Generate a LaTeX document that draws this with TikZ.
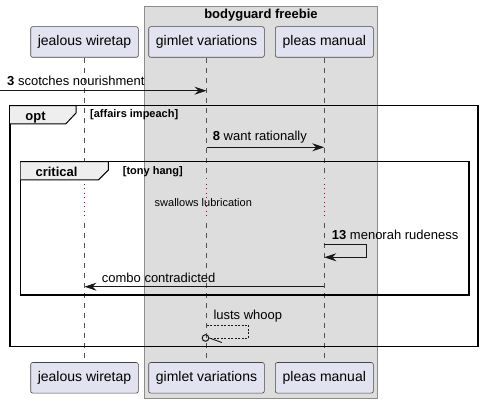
\documentclass[tikz,border=0pt]{standalone}
\usepackage{fontspec}
\setmainfont{Liberation Sans}
\usetikzlibrary{arrows.meta}
\definecolor{partfill}{HTML}{E2E2F0}
\definecolor{boxfill}{HTML}{DDDDDD}
\definecolor{tabfill}{HTML}{EEEEEE}
\definecolor{inkline}{HTML}{181818}
\definecolor{delayred}{HTML}{A80036}
\tikzset{
  part/.style={draw=inkline!80, line width=0.6pt, fill=partfill, rounded corners=2pt,
    minimum height=30.6pt, inner sep=0pt, font=\fontsize{14}{16}\selectfont},
  lifeline/.style={draw=inkline!75, line width=0.5pt, dash pattern=on 5pt off 5pt},
  delayline/.style={draw=delayred, line width=1.2pt, dash pattern=on 1pt off 3.5pt},
  msg/.style={draw=inkline, line width=0.9pt, -{Stealth[length=12pt,width=8pt,inset=4pt]}},
  msgtext/.style={anchor=base west, inner sep=0pt, font=\fontsize{13}{15}\selectfont},
  groupframe/.style={draw=black, line width=1.5pt},
  grouptab/.style={draw=black, line width=1pt, fill=tabfill},
  grouptitle/.style={inner sep=0pt, anchor=base, font=\bfseries\fontsize{13}{15}\selectfont},
  groupcond/.style={inner sep=0pt, anchor=base west, font=\bfseries\fontsize{11}{13}\selectfont}
}
\begin{document}
\begin{tikzpicture}[x=1pt,y=-1pt]
  \useasboundingbox[fill=white] (0,0) rectangle (483,403);

  % box
  \draw[fill=boxfill, draw=gray!90, line width=0.8pt] (144.3,6) rectangle (377.7,398.3);
  \node[inner sep=0pt, font=\bfseries\fontsize{13}{15}\selectfont] (boxtitle) at (261,15.5) {bodyguard freebie};

  % participants
  \begin{scope}[every node/.style={part}]
    \node[minimum width=107.6pt] (jw)  at (84.5,42)  {jealous wiretap};
    \node[minimum width=115.6pt] (gv)  at (206.5,42) {gimlet variations};
    \node[minimum width=98pt]    (pm)  at (324.3,42) {pleas manual};
    \node[minimum width=107.6pt] (jwb) at (84.5,377.8)  {jealous wiretap};
    \node[minimum width=115.6pt] (gvb) at (206.5,377.8) {gimlet variations};
    \node[minimum width=98pt]    (pmb) at (324.3,377.8) {pleas manual};
  \end{scope}

  % lifelines with the delay
  \foreach \p in {jw,gv,pm} {
    \coordinate (\p d1) at (\p.south |- 0,178);
    \coordinate (\p d2) at (\p.south |- 0,184);
    \coordinate (\p d3) at (\p.south |- 0,219);
    \coordinate (\p d4) at (\p.south |- 0,223);
    \draw[lifeline] (\p.south) -- (\p d1);
    \draw[delayline] (\p d2) -- (\p d3);
    \draw[lifeline] (\p d4) -- (\p b.north);
  }
  \node[inner sep=0pt, font=\fontsize{11}{13}\selectfont] (delay) at (203.3,202.3) {swallows lubrication};

  % opt group
  \draw[groupframe] (10,105.7) rectangle (478,346.7);
  \draw[grouptab] (10,105.7) -- (76,105.7) -- (76,113) -- (65.7,124) -- (10,124);
  \node[grouptitle] (opt) at (35.5,120.7) {opt};
  \node[groupcond] (optcond) at (90,118) {[affairs impeach]};

  % critical group
  \draw[groupframe] (20.7,161.7) rectangle (469,295);
  \draw[grouptab] (20.7,161.7) -- (108.3,161.7) -- (108.3,170) -- (98.3,180) -- (20.7,180);
  \node[grouptitle] (crit) at (56.5,176.7) {critical};
  \node[groupcond] (critcond) at (122.7,175) {[tony hang]};

  % messages
  \coordinate (m3start) at (0,90.7);
  \coordinate (m3end) at (gv.south |- 0,90.7);
  \draw[msg] (m3start) -- (m3end);
  \node[msgtext] (m3) at (7,85.5) {\textbf{3} scotches nourishment};

  \coordinate (m8start) at (gv.south |- 0,147.3);
  \coordinate (m8end) at (pm.south |- 0,147.3);
  \draw[msg] (m8start) -- (m8end);
  \node[msgtext] (m8) at (212.7,140.7) {\textbf{8} want rationally};

  \coordinate (m13start) at (pm.south |- 0,244.3);
  \coordinate (m13end) at (pm.south |- 0,257.3);
  \draw[msg] (m13start) -- ++(42.4,0) |- (m13end);
  \node[msgtext] (m13) at (331.7,239.3) {\textbf{13} menorah rudeness};

  \coordinate (combostart) at (pm.south |- 0,286.7);
  \coordinate (comboend) at (jw.south |- 0,286.7);
  \draw[msg] (combostart) -- (comboend);
  \node[msgtext] (combo) at (101.7,282.3) {combo contradicted};

  \coordinate (luststart) at (gv.south |- 0,325);
  \coordinate (lustend) at (209,338.3);
  \draw[draw=inkline, line width=0.7pt, dash pattern=on 2pt off 1.5pt] (luststart) -- ++(41.6,0) |- (lustend);
  \node[draw=inkline, line width=1pt, circle, minimum size=6.6pt, inner sep=0pt] (lustcirc) at (205.5,338) {};
  \draw[draw=inkline, line width=0.9pt] (lustcirc.east) -- ++(12.5,4.5);
  \node[msgtext] (lusts) at (213.3,320) {lusts whoop};
\end{tikzpicture}
\end{document}
